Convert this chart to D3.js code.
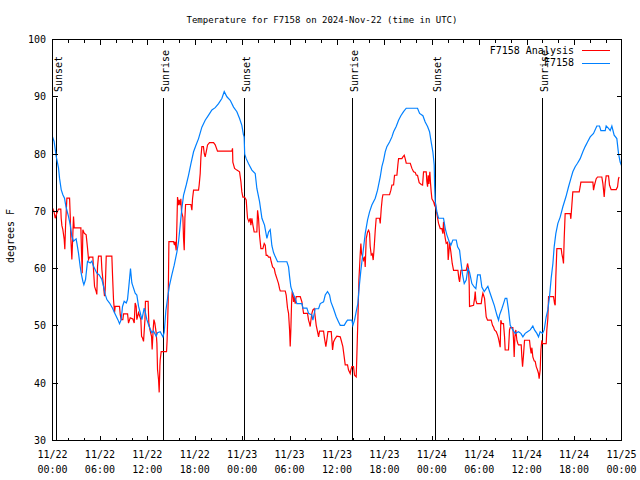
<!DOCTYPE html>
<html><head><meta charset="utf-8">
<script src="https://cdn.jsdelivr.net/npm/d3@7"></script>
<style>
body{margin:0;background:#fff}
svg text{font-family:"DejaVu Sans Mono",monospace;font-size:10px;fill:#000}
</style></head><body><svg id="c" width="640" height="480"></svg>
<script>
// hours since 2024-11-22 00:00 UTC
const stationHours = [0,0.05,0.2,0.47,0.76,0.89,1.1,1.31,1.52,1.69,2.03,2.24,2.45,2.66,2.99,3.08,3.29,3.5,3.63,3.84,3.97,4.18,4.43,4.77,4.98,5.19,5.61,5.91,6.25,6.46,6.67,6.88,7.22,7.6,7.85,8.06,8.27,8.48,8.69,8.86,9.07,9.33,9.49,9.66,9.87,10.04,10.46,10.67,10.89,11.1,11.31,11.6,11.73,11.94,12.23,12.57,12.78,13.12,13.29,13.63,13.97,14.14,14.34,14.56,14.79,15.1,15.4,15.74,15.95,16.16,16.37,16.58,16.92,17.21,17.51,17.85,18.14,18.48,18.9,19.32,19.75,20.17,20.59,21.01,21.43,21.73,22.07,22.49,22.91,23.33,23.67,23.96,24.17,24.25,24.32,24.51,24.81,25.23,25.65,25.86,26.2,26.5,26.83,27.13,27.34,27.55,27.76,27.97,28.18,28.48,29.66,29.87,30,30.16,30.42,30.71,30.92,31.56,31.68,32.19,32.4,32.82,32.95,33.24,33.67,33.88,34.3,34.51,34.8,35.06,35.23,35.56,35.9,36.2,36.41,36.91,37.17,37.33,37.88,38.01,38.22,38.43,38.64,38.81,39.02,39.27,39.57,39.87,40.12,40.41,40.84,41.13,41.47,41.68,41.89,42.1,42.31,42.65,42.95,43.16,43.49,43.79,44.08,44.42,44.76,46.19,46.45,46.87,47.16,47.46,47.71,47.92,48.13,48.3,48.35,48.43,48.64,48.85,49.48,49.7,49.9,50.2,50.41,50.66,51.09,51.26,51.51,51.68,51.89,52.1,52.35,52.56,52.77,53.07,53.36,53.57,53.79,54.12,54.33,54.63,54.88,55.09,55.3,55.6,55.9,56.23,56.44,56.57,56.65,56.86,57.07,57.28,57.49,57.7,57.92,58.25,58.55,58.97,59.26,59.52,59.81,60.11,60.45,60.78,60.99,61.29,61.5,61.71,62.01,62.22,62.47,62.68,62.89,63.1,63.32,63.48,63.69,63.95,64.24,64.58,64.96,65.3,65.59,65.84,66.14,66.43,66.77,67.11,67.4,67.7,68.04,68.46,68.88,69.22,69.39,69.94,70.06,70.36,70.57,70.78,71.07,71.41,71.62,71.83,72];
const stationTemps = [82.5,82.8,82.2,79.6,77.6,75.8,73.8,72.9,72.3,70.9,69.1,67.7,65.6,64.8,65.2,64.5,62.7,60.4,59.2,57.8,57.2,58.1,61.3,61.0,61.3,60.4,59.2,58.9,58.1,56.9,55.5,54.6,54.0,53.1,52.3,51.7,51.1,50.4,51.1,53.4,54.3,54.0,54.6,56.9,60.0,57.5,55.7,55.4,53.4,52.3,51.1,53.1,52.5,51.1,49.9,48.8,49.1,48.2,48.8,49.0,48.1,48.9,52.6,54.8,57.0,58.9,60.6,62.9,64.7,67.6,70.5,72.8,74.6,76.3,78.3,80.4,81.5,82.7,84.7,85.9,86.8,87.7,88.1,88.8,89.7,90.9,90.0,89.4,88.2,87.4,86.2,85.0,83.3,83.0,80.0,79.2,78.3,77.2,76.6,74.0,71.7,68.8,67.6,65.3,66.4,66.8,64.0,62.8,62.1,61.2,61.2,60.3,58.6,56.8,55.7,54.8,53.9,53.9,53.1,53.1,52.2,51.9,51.0,53.0,53.0,53.9,54.2,55.4,56.0,55.4,54.2,53.0,51.6,50.7,50.1,50.1,50.7,51.0,51.0,50.1,51.0,52.5,53.9,56.8,59.7,62.6,66.1,68.5,69.9,71.1,72.3,73.7,76.0,77.8,78.9,80.4,81.3,82.1,83.0,83.9,84.8,85.9,86.7,87.4,88.0,88.0,87.1,86.7,85.6,84.8,83.9,82.1,80.4,78.1,74.6,71.7,69.9,68.8,68.8,67.0,65.9,64.7,64.1,65.0,65.0,63.8,63.2,61.2,58.9,57.4,58.0,60.0,59.4,57.4,56.8,56.5,58.9,58.9,56.8,56.0,56.5,56.9,56.0,54.8,53.6,51.9,51.0,51.9,52.2,53.0,53.9,54.8,54.8,52.8,50.1,49.3,48.7,49.0,48.7,48.1,48.7,49.0,49.3,50.0,49.3,48.7,48.1,49.0,48.7,49.3,51.6,52.8,55.1,58.3,60.9,63.8,66.1,67.9,69.0,70.8,72.5,74.3,75.7,76.9,77.8,78.4,79.2,80.4,81.3,82.1,83.0,83.6,84.9,84.9,84.1,84.1,84.9,84.5,84.1,84.9,83.3,82.7,80.1,78.6,78.0];

const analysisHours = [0,0.2,0.34,0.55,0.76,1.05,1.1,1.19,1.31,1.48,1.56,1.65,1.73,1.82,2.16,2.24,2.32,2.45,2.53,2.66,2.75,3.59,3.67,3.76,3.84,4.01,4.26,4.43,4.56,4.69,5.11,5.19,5.32,5.53,5.61,5.7,5.82,6.16,6.25,6.46,6.58,6.67,6.8,7.51,7.6,7.72,7.85,7.93,8.48,8.57,8.69,8.9,8.99,9.5,9.62,9.83,10.17,10.34,10.46,10.59,10.67,10.89,11.18,11.27,11.39,11.52,11.64,11.7,11.76,12.1,12.19,12.32,12.53,12.61,12.74,12.83,12.95,13.12,13.21,13.29,13.42,13.5,13.59,13.63,13.75,14.43,14.5,14.58,14.64,14.73,15.32,15.44,15.52,15.65,15.74,15.82,15.95,16.03,16.16,16.24,16.33,16.5,16.58,16.67,16.75,16.84,17.51,17.64,17.72,17.85,18.48,18.56,18.69,18.78,18.9,19.1,19.2,19.32,19.45,19.62,19.87,20.38,20.59,20.88,22.7,22.78,22.82,23.04,23.33,23.67,23.84,23.96,24.09,24.3,24.51,24.6,24.68,24.85,25.02,25.1,25.23,25.36,25.52,25.86,25.95,26.07,26.2,26.37,26.62,26.79,26.92,27.04,27.21,27.34,27.55,27.68,27.85,28.06,28.18,28.39,28.6,28.73,28.82,29.45,29.57,29.74,29.87,30,30.08,30.16,30.25,30.33,30.42,30.5,30.59,30.71,30.84,31.35,31.56,31.68,31.77,32.27,32.4,32.53,32.61,32.7,32.82,32.95,33.12,33.24,33.37,33.58,33.67,33.79,34.3,34.42,34.59,34.72,34.85,35.27,35.35,35.44,35.56,35.77,35.98,36.41,36.53,36.74,36.91,37.04,37.33,37.46,37.67,37.75,37.88,38.09,38.22,38.43,38.52,38.64,38.77,38.94,39.02,39.11,39.23,39.36,39.49,39.57,39.7,39.87,40,40.12,40.2,40.33,40.46,40.58,40.71,40.84,40.96,41.38,41.47,41.6,41.72,41.81,42.65,42.82,42.95,43.16,43.28,43.58,43.7,43.79,44.21,44.34,44.51,44.63,44.76,45.27,45.48,45.69,45.9,46.03,46.19,46.4,46.66,46.83,46.95,47.29,47.37,47.46,47.54,47.63,47.75,47.84,47.92,48.01,48.22,48.34,48.43,48.56,48.73,48.85,49.06,49.27,49.4,49.48,49.57,49.7,49.82,49.99,50.07,50.16,50.24,50.41,50.58,50.75,51.3,51.42,51.51,51.68,52.35,52.44,52.52,52.65,52.73,52.77,53.28,53.41,53.49,53.57,53.7,54.25,54.33,54.46,54.54,54.67,54.76,54.88,55.05,55.51,55.68,55.81,55.93,56.15,56.32,56.44,56.57,56.65,56.73,56.86,57.07,57.2,57.28,57.7,57.83,57.92,58.25,58.34,58.42,58.51,58.63,58.76,58.89,58.97,59.31,59.39,59.48,59.6,59.73,60.36,60.45,60.57,60.66,60.78,60.95,61.08,61.21,61.37,61.5,61.58,61.71,61.8,61.92,62.01,62.47,62.55,62.68,62.77,63.4,63.53,63.61,63.69,63.82,64.37,64.45,64.58,64.66,64.75,64.87,65.51,65.59,65.72,65.84,66.65,66.77,66.86,68.38,68.46,68.59,68.8,68.97,69.51,69.64,69.73,69.81,69.94,70.06,70.36,70.48,70.69,71.33,71.5,71.62,71.7];
const analysisTemps = [70.6,69.9,68.8,69.7,70.4,70.4,68.8,67.5,66.8,65.1,63.4,67.4,69.7,72.3,72.3,69.4,65.3,61.6,64.5,69.1,67.1,67.1,63.0,59.2,66.8,66.2,65.9,63.6,61.6,62.0,62.0,59.8,56.9,56.0,55.5,60.4,62.2,62.2,59.8,56.9,55.2,56.3,62.2,62.2,58.7,54.6,52.3,53.4,53.4,52.0,51.1,51.1,52.1,52.1,50.5,51.4,51.2,50.5,54.0,53.4,51.1,52.3,51.1,48.2,47.9,47.3,49.9,51.1,54.3,54.3,50.5,49.4,48.2,45.9,49.4,51.1,50.5,48.8,47.0,42.4,40.6,38.4,43.0,44.1,45.5,45.5,47.4,51.3,54.2,64.7,64.7,64.1,64.7,63.2,67.6,72.5,71.1,72.0,71.1,72.2,69.9,69.0,65.3,63.2,68.7,71.2,71.2,70.2,72.2,73.7,73.7,74.6,76.6,79.5,81.3,81.3,80.1,79.5,80.4,81.6,82.0,82.0,81.6,80.5,80.5,81.0,78.6,77.5,77.2,76.9,75.2,73.4,72.5,72.5,72.0,70.2,68.8,68.2,68.8,67.6,68.8,67.6,66.4,66.4,70.2,68.8,65.8,63.5,63.5,64.4,64.1,62.3,62.3,62.0,62.0,61.2,60.3,60.0,59.2,58.3,57.4,56.5,56.1,56.1,55.4,53.1,52.2,49.3,46.4,49.3,53.9,56.0,55.7,54.2,55.1,53.9,55.1,55.1,54.2,53.0,52.2,52.2,51.0,50.4,49.9,51.0,52.2,52.8,53.0,51.6,50.1,48.7,48.1,49.1,49.1,47.8,46.4,47.6,49.0,49.0,47.6,45.8,47.2,47.8,48.2,48.1,47.5,46.4,44.6,43.2,43.2,42.3,41.7,42.3,42.9,42.9,41.4,41.1,45.2,51.0,58.0,62.6,64.4,62.6,62.1,61.5,62.1,60.3,65.3,66.4,66.7,66.2,63.9,62.4,62.6,61.5,63.8,66.7,68.8,68.8,67.9,70.5,72.2,72.9,72.9,73.7,74.6,74.6,76.3,76.3,78.1,79.2,79.2,79.5,79.8,79.2,78.4,78.4,77.5,76.9,76.8,76.3,76.3,75.0,74.7,74.6,76.9,76.9,75.2,74.3,76.3,74.8,76.9,74.8,73.4,72.2,71.7,71.1,71.6,70.2,68.8,67.9,67.0,67.0,66.1,68.2,66.5,65.3,64.4,64.6,61.5,62.9,64.6,62.9,60.9,59.7,59.7,58.3,57.7,59.7,59.7,60.3,60.9,60.0,57.1,53.4,53.6,54.8,56.0,54.5,53.9,53.9,54.8,55.7,55.4,54.8,53.4,51.6,51.0,51.0,50.1,49.8,49.3,49.0,48.4,47.8,46.9,46.3,51.0,50.4,50.4,48.1,45.8,45.8,49.3,49.7,49.7,47.5,44.6,48.1,49.3,47.5,46.9,46.7,46.7,44.6,42.9,44.9,47.5,47.5,46.3,45.2,46.2,44.6,43.9,43.8,42.9,42.3,41.7,40.8,42.3,45.8,47.5,46.9,46.9,49.3,51.3,55.1,55.1,53.9,53.6,58.6,63.5,63.5,62.6,61.7,60.9,65.3,69.6,69.6,68.7,71.1,73.4,73.4,74.3,75.1,75.1,73.7,74.6,75.7,76.0,76.0,74.9,73.7,72.5,74.9,76.2,76.2,74.6,73.8,73.8,74.3,75.7,76.0];

const sunHours  = [0.38, 13.92, 24.29, 37.96, 48.34, 62.0];
const sunLabels = ["Sunset","Sunrise","Sunset","Sunrise","Sunset","Sunrise"];
const yTicks = [30,40,50,60,70,80,90,100];
const seriesNames = ["F7158 Analysis","F7158"];
const seriesColors = ["#ff0000","#0080ff"];
const titleText = "Temperature for F7158 on 2024-Nov-22 (time in UTC)";
const yLabel = "degrees F";

const svg = d3.select("#c");
const L=52.5, R=621.5, T=39.5, B=440.5;
const t0 = Date.UTC(2024,10,22,0,0);
const toDate = h => new Date(t0 + h*3600000);
const x = d3.scaleUtc().domain([toDate(0), toDate(72)]).range([L,R]);
const y = d3.scaleLinear().domain([30,100]).range([B,T]);

// title
svg.append("text").attr("x",322).attr("y",23).attr("text-anchor","middle").style("font-size","9px").text(titleText);
// y label
svg.append("text").attr("transform","translate(14,236) rotate(-90)").attr("text-anchor","middle").text(yLabel);

// sun lines
const sun = svg.append("g");
sunHours.forEach((h,i)=>{
  const xx = Math.round(x(toDate(h)))+0.5;
  sun.append("line").attr("x1",xx).attr("x2",xx).attr("y1",98).attr("y2",B)
    .attr("stroke","#000").attr("stroke-width",1).attr("shape-rendering","crispEdges");
  sun.append("text").attr("transform",`translate(${xx+5},92) rotate(-90)`).text(sunLabels[i]);
});

// series
const line = d3.line().x(d=>x(toDate(d[0]))).y(d=>y(d[1]));
const analysis = analysisHours.map((h,i)=>[h,analysisTemps[i]]);
const station = stationHours.map((h,i)=>[h,stationTemps[i]]);
[analysis, station].forEach((data,i)=>{
  svg.append("path").datum(data).attr("d",line).attr("fill","none")
    .attr("stroke",seriesColors[i]).attr("stroke-width",1.2).attr("stroke-linejoin","miter");
});

// frame
svg.append("rect").attr("x",L).attr("y",T).attr("width",R-L).attr("height",B-T)
  .attr("fill","none").attr("stroke","#000").attr("shape-rendering","crispEdges");

// y ticks
const yAxis = svg.append("g");
yTicks.forEach(v=>{
  const yy = y(v);
  if (v>30 && v<100){
    yAxis.append("line").attr("x1",L).attr("x2",L+5).attr("y1",yy).attr("y2",yy).attr("stroke","#000").attr("shape-rendering","crispEdges");
    yAxis.append("line").attr("x1",R).attr("x2",R-5).attr("y1",yy).attr("y2",yy).attr("stroke","#000").attr("shape-rendering","crispEdges");
  }
  yAxis.append("text").attr("x",46).attr("y",yy+3.5).attr("text-anchor","end").text(v);
});

// x ticks
const major = d3.utcHour.every(6).range(toDate(0), toDate(72.01));
const minor = d3.utcHour.every(2).range(toDate(0), toDate(72.01));
const xg = svg.append("g");
minor.forEach(d=>{
  const xx = Math.round(x(d))+0.5;
  const isMajor = d.getUTCHours()%6===0;
  const len = isMajor?5:3;
  if (xx>L+1 && xx<R-1){
    xg.append("line").attr("x1",xx).attr("x2",xx).attr("y1",B).attr("y2",B-len).attr("stroke","#000").attr("shape-rendering","crispEdges");
    xg.append("line").attr("x1",xx).attr("x2",xx).attr("y1",T).attr("y2",T+len).attr("stroke","#000").attr("shape-rendering","crispEdges");
  }
});
const fmtD = d3.utcFormat("%m/%d"), fmtT = d3.utcFormat("%H:%M");
major.forEach(d=>{
  const xx = x(d);
  const t = xg.append("text").attr("text-anchor","middle");
  t.append("tspan").attr("x",xx).attr("y",458).text(fmtD(d));
  t.append("tspan").attr("x",xx).attr("y",473).text(fmtT(d));
});

// legend
const lg = svg.append("g");
seriesNames.forEach((n,i)=>{
  const yy = 50 + i*12.5;
  lg.append("text").attr("x",574).attr("y",yy+3.5).attr("text-anchor","end").text(n);
  lg.append("line").attr("x1",582).attr("x2",610).attr("y1",Math.round(yy)+0.5).attr("y2",Math.round(yy)+0.5)
    .attr("stroke",seriesColors[i]).attr("stroke-width",1).attr("shape-rendering","crispEdges");
});
</script></body></html>
